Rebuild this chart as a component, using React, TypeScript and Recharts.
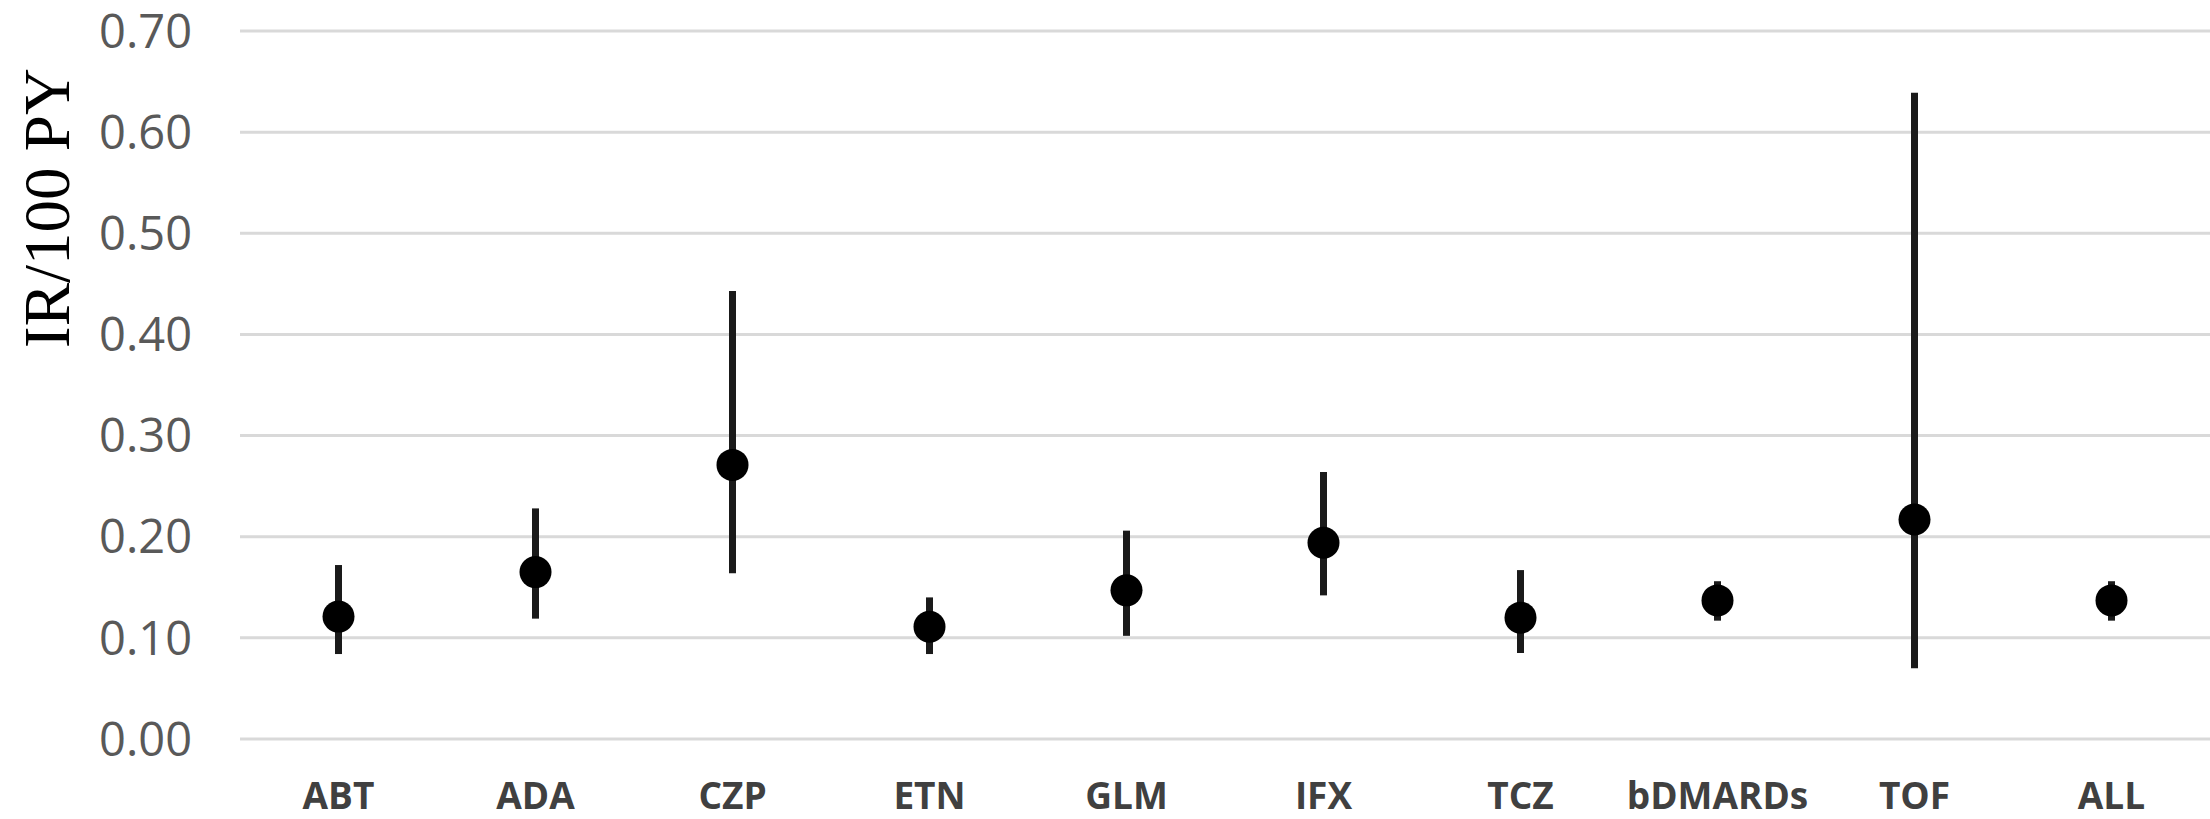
import React from 'react';
import { ComposedChart, Scatter, ErrorBar, XAxis, YAxis, CartesianGrid } from 'recharts';

const categories = ['ABT', 'ADA', 'CZP', 'ETN', 'GLM', 'IFX', 'TCZ', 'bDMARDs', 'TOF', 'ALL'];
const rates = [0.121, 0.165, 0.271, 0.111, 0.147, 0.194, 0.12, 0.137, 0.217, 0.137];
const lower = [0.084, 0.119, 0.164, 0.084, 0.102, 0.142, 0.085, 0.117, 0.07, 0.117];
const upper = [0.172, 0.228, 0.443, 0.14, 0.206, 0.264, 0.167, 0.156, 0.639, 0.156];
const yTicks = [0, 0.1, 0.2, 0.3, 0.4, 0.5, 0.6, 0.7];

const data = categories.map((name, i) => ({
  name,
  rate: rates[i],
  err: [rates[i] - lower[i], upper[i] - rates[i]],
}));

const Dot = (props: any) => <circle cx={props.cx} cy={props.cy} r={16} fill="#000" />;

// rotated axis title, sits in the upper part of the axis like the original
const YLabel = ({ viewBox }: any) => {
  const x = viewBox.x + 69;
  const y = 208;
  return (
    <text
      x={x}
      y={y}
      transform={`rotate(-90, ${x}, ${y})`}
      textAnchor="middle"
      fontFamily="'Liberation Serif', serif"
      fontSize={65}
      fill="#000"
    >
      IR/100 PY
    </text>
  );
};

export default function App() {
  return (
    <div style={{ position: 'absolute', left: 0, top: 0, background: '#fff' }}>
      <ComposedChart width={2210} height={819} data={data} margin={{ top: 31, right: 0, left: 0, bottom: 0 }}>
        <CartesianGrid vertical={false} stroke="#d9d9d9" strokeWidth={3} />
        <XAxis
          dataKey="name"
          type="category"
          scale="band"
          height={80}
          axisLine={false}
          tickLine={false}
          tickSize={0}
          tickMargin={44}
          interval={0}
          tick={{ fontFamily: "'Open Sans', sans-serif", fontSize: 37, fontWeight: 700, fill: '#404040' }}
        />
        <YAxis
          width={240}
          domain={[0, 0.7]}
          ticks={yTicks}
          tickFormatter={(v: number) => v.toFixed(2)}
          axisLine={false}
          tickLine={false}
          tickSize={0}
          tickMargin={48}
          tick={{ fontFamily: "'Open Sans', sans-serif", fontSize: 47, fill: '#595959' }}
          label={{ content: YLabel }}
        />
        <Scatter dataKey="rate" shape={Dot} isAnimationActive={false}>
          <ErrorBar dataKey="err" direction="y" width={0} stroke="#1a1a1a" strokeWidth={7} isAnimationActive={false} />
        </Scatter>
      </ComposedChart>
    </div>
  );
}
